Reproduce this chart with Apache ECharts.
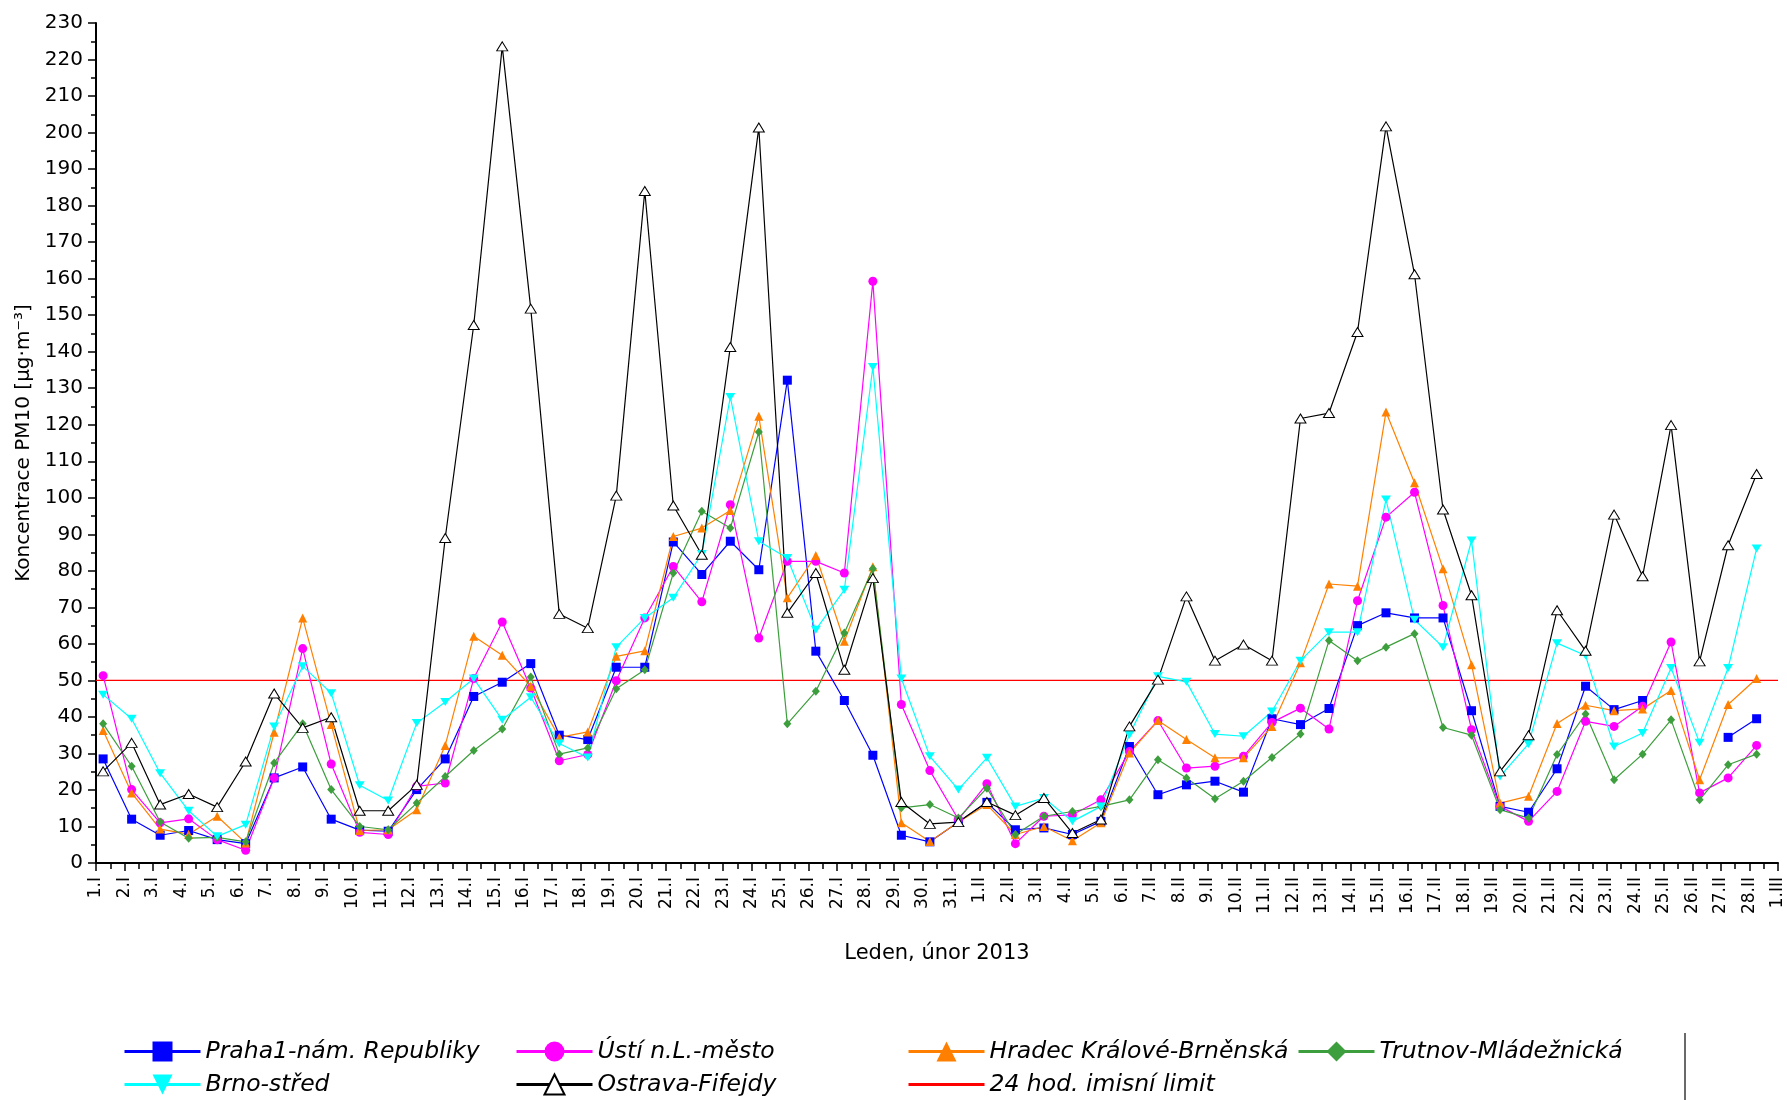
<!DOCTYPE html>
<html>
<head>
<meta charset="utf-8">
<script src="https://cdn.jsdelivr.net/npm/echarts@6/dist/echarts.min.js"></script>
<style>
  html, body { margin: 0; padding: 0; background: #fff; }
  #chart { width: 1787px; height: 1100px; }
</style>
</head>
<body>
<div id="chart"></div>
<script>
// Day labels along the time axis (January, February 2013, closing tick 1.III)
const tickLabels = [
  '1.I','2.I','3.I','4.I','5.I','6.I','7.I','8.I','9.I','10.I',
  '11.I','12.I','13.I','14.I','15.I','16.I','17.I','18.I','19.I','20.I',
  '21.I','22.I','23.I','24.I','25.I','26.I','27.I','28.I','29.I','30.I','31.I',
  '1.II','2.II','3.II','4.II','5.II','6.II','7.II','8.II','9.II','10.II',
  '11.II','12.II','13.II','14.II','15.II','16.II','17.II','18.II','19.II','20.II',
  '21.II','22.II','23.II','24.II','25.II','26.II','27.II','28.II','1.III'
];

// Daily mean PM10 concentrations [µg·m⁻³], 1.I – 28.II 2013
const praha = [
  28.5, 12.0, 7.6, 8.9, 6.4, 5.3, 23.3, 26.3, 12.0, 9.0,
  8.7, 20.1, 28.5, 45.6, 49.5, 54.6, 35.0, 33.8, 53.6, 53.6,
  87.9, 79.0, 88.1, 80.3, 132.2, 58.0, 44.5, 29.5, 7.6, 5.8,
  11.2, 16.6, 9.1, 9.6, 7.8, 11.4, 31.9, 18.7, 21.4, 22.4,
  19.4, 39.5, 37.9, 42.3, 65.0, 68.5, 67.1, 67.1, 41.7, 15.5,
  13.9, 25.8, 48.4, 42.0, 44.5, null, null, 34.4, 39.5
];
const usti = [
  51.3, 20.1, 11.0, 12.1, 6.4, 3.5, 23.3, 58.7, 27.1, 8.4,
  7.8, 21.0, 21.9, 50.5, 66.0, 47.9, 28.0, 29.7, 49.9, 67.1,
  81.2, 71.5, 98.1, 61.6, 82.6, 82.6, 79.4, 159.3, 43.4, 25.3,
  11.9, 21.7, 5.3, 12.8, 13.2, 17.3, 30.5, 39.0, 26.0, 26.5,
  29.2, 38.5, 42.4, 36.7, 71.8, 94.7, 101.5, 70.5, 36.5, 15.5,
  11.4, 19.6, 38.8, 37.4, 42.9, 60.5, 19.2, 23.3, 32.2
];
const hradec = [
  36.3, 19.2, 9.3, 7.9, 12.8, 5.5, 35.8, 67.1, 37.9, 8.9,
  9.1, 14.6, 32.2, 62.1, 56.9, 48.4, 34.4, 35.9, 56.6, 58.1,
  89.4, 91.7, 96.5, 122.3, 72.6, 84.2, 60.7, 81.1, 11.0, 5.9,
  11.2, 16.0, 7.8, 10.0, 6.1, 11.0, 30.1, 39.0, 33.8, 28.8,
  28.8, 37.4, 54.8, 76.4, 75.8, 123.5, 104.1, 80.6, 54.3, 16.4,
  18.3, 38.2, 43.2, 41.7, 42.2, 47.2, 22.8, 43.4, 50.5
];
const trutnov = [
  38.1, 26.5, 11.2, 6.8, 7.0, 5.8, 27.4, 38.1, 20.1, 10.0,
  9.1, 16.4, 23.7, 30.8, 36.7, 50.9, 29.8, 31.5, 47.7, 52.9,
  79.4, 96.3, 91.7, 118.0, 38.1, 47.0, 63.0, 80.6, 15.1, 16.0,
  12.3, 20.5, 7.8, 12.8, 14.1, 15.5, 17.3, 28.3, 23.3, 17.6,
  22.4, 28.9, 35.3, 60.9, 55.4, 59.1, 62.8, 37.1, 35.0, 14.6,
  12.3, 29.7, 40.8, 22.8, 29.8, 39.2, 17.3, 26.9, 29.8
];
const brno = [
  46.1, 39.5, 24.6, 14.3, 7.3, 10.5, 37.4, 53.9, 46.5, 21.3,
  17.1, 38.3, 44.1, 50.5, 39.2, 45.4, 32.7, 28.9, 59.1, 67.1,
  72.6, 84.6, 127.6, 88.1, 83.5, 63.9, 74.8, 135.8, 50.5, 29.2,
  20.1, 28.8, 15.5, 17.8, 11.4, 15.5, 35.1, 51.1, 49.6, 35.3,
  34.7, 41.5, 55.4, 63.2, 63.2, 99.5, 66.6, 59.1, 88.3, 23.7,
  32.6, 60.2, 56.8, 31.9, 35.6, 53.4, 32.9, 53.4, 86.1
];
const ostrava = [
  25.1, 32.9, 16.0, 18.9, 15.3, 27.8, 46.4, 37.0, 39.9, 14.3,
  14.3, 21.4, 89.0, 147.3, 223.6, 151.8, 68.2, 64.3, 100.6, 184.0,
  97.9, 84.4, 141.3, 201.4, 68.5, 79.4, 52.9, 78.0, 16.7, 10.7,
  11.2, 16.7, 13.1, 17.8, 8.2, 11.9, 37.4, 50.2, 73.0, 55.4,
  59.8, 55.4, 121.7, 123.2, 145.4, 201.7, 161.2, 96.8, 73.3, 25.1,
  35.0, 69.2, 58.1, 95.4, 78.5, 119.9, 55.2, 87.0, 106.5
];

// 24-hour limit value
const LIMIT = 50;

// Daily means sit a quarter of a day to the right of their date tick
const DAY_OFFSET = 0.25;
const X_MAX = tickLabels.length - 1;

const FONT = 'DejaVu Sans';

function toPoints(values) {
  return values.map((v, i) => [i + DAY_OFFSET, v == null ? '-' : v]);
}

function station(name, values, color, symbol, symbolSize, opts) {
  opts = opts || {};
  return {
    name: name,
    type: 'line',
    data: toPoints(values),
    symbol: symbol,
    symbolSize: symbolSize,
    symbolRotate: opts.rotate || 0,
    showAllSymbol: true,
    connectNulls: false,
    lineStyle: { color: opts.lineColor || color, width: 1.2 },
    itemStyle: opts.itemStyle || { color: color },
    emphasis: { disabled: true },
    z: 3
  };
}

const chart = echarts.init(document.getElementById('chart'), null, { renderer: 'canvas' });

// Legend columns: each column holds up to two entries stacked vertically
const legendBase = {
  type: 'plain',
  orient: 'vertical',
  top: 1039,
  height: 80,
  padding: 0,
  itemWidth: 76,
  itemHeight: 25,
  itemGap: 8,
  selectedMode: false,
  lineStyle: { width: 3 },
  textStyle: { fontFamily: FONT, fontStyle: 'italic', fontSize: 23.5, color: '#000', lineHeight: 25 }
};

chart.setOption({
  animation: false,
  backgroundColor: '#fff',
  grid: { left: 96, right: 9, top: 23, bottom: 237, containLabel: false },
  xAxis: {
    type: 'value',
    min: 0,
    max: X_MAX,
    interval: 1,
    name: 'Leden, únor 2013',
    nameLocation: 'middle',
    nameGap: 80,
    nameTextStyle: { fontFamily: FONT, fontSize: 21, color: '#000' },
    axisLine: { show: true, onZero: false, lineStyle: { color: '#000', width: 2 } },
    axisTick: { show: true, inside: false, length: 8, lineStyle: { color: '#000', width: 1.5 } },
    minorTick: { show: true, splitNumber: 2, length: 6, lineStyle: { color: '#000', width: 1.5 } },
    splitLine: { show: false },
    minorSplitLine: { show: false },
    axisLabel: {
      rotate: 90,
      margin: 14,
      fontFamily: FONT,
      fontSize: 17,
      color: '#000',
      showMinLabel: true,
      showMaxLabel: true,
      formatter: v => tickLabels[Math.round(v)] || ''
    }
  },
  yAxis: {
    type: 'value',
    min: 0,
    max: 230,
    interval: 10,
    name: 'Koncentrace PM10 [µg·m⁻³]',
    nameLocation: 'middle',
    nameGap: 58,
    nameRotate: 90,
    nameTextStyle: { fontFamily: FONT, fontSize: 20, color: '#000' },
    axisLine: { show: true, lineStyle: { color: '#000', width: 2 } },
    axisTick: { show: true, inside: false, length: 8, lineStyle: { color: '#000', width: 1.5 } },
    minorTick: { show: true, splitNumber: 2, length: 5, lineStyle: { color: '#000', width: 1.5 } },
    splitLine: { show: false },
    minorSplitLine: { show: false },
    axisLabel: { margin: 13, fontFamily: FONT, fontSize: 20, color: '#000' }
  },
  legend: [
    Object.assign({}, legendBase, { left: 123, data: ['Praha1-nám. Republiky', 'Brno-střed'] }),
    Object.assign({}, legendBase, { left: 515, data: ['Ústí n.L.-město', 'Ostrava-Fifejdy'] }),
    Object.assign({}, legendBase, { left: 907, data: [
      'Hradec Králové-Brněnská',
      { name: '24 hod. imisní limit', icon: 'path://M0,0H76V3H0Z' }
    ] }),
    Object.assign({}, legendBase, { left: 1297, data: ['Trutnov-Mládežnická'] })
  ],
  graphic: [
    {
      type: 'line',
      shape: { x1: 1685, y1: 1033, x2: 1685, y2: 1100 },
      style: { stroke: '#6a6a6a', lineWidth: 2 },
      silent: true
    }
  ],
  series: [
    {
      name: '24 hod. imisní limit',
      type: 'line',
      data: [[0, LIMIT], [X_MAX, LIMIT]],
      symbol: 'none',
      lineStyle: { color: '#ff0000', width: 1.3 },
      itemStyle: { color: '#ff0000' },
      emphasis: { disabled: true },
      z: 2
    },
    station('Praha1-nám. Republiky', praha, '#0000ff', 'rect', 9),
    station('Ústí n.L.-město', usti, '#ff00ff', 'circle', 9),
    station('Hradec Králové-Brněnská', hradec, '#ff8000', 'triangle', [9, 9]),
    station('Trutnov-Mládežnická', trutnov, '#3c9e3c', 'diamond', [8, 9]),
    station('Brno-střed', brno, '#00ffff', 'triangle', [10, 8], { rotate: 180 }),
    station('Ostrava-Fifejdy', ostrava, '#000000', 'triangle', [11, 9], {
      itemStyle: { color: '#ffffff', borderColor: '#000000', borderWidth: 1 }
    })
  ]
});
</script>
</body>
</html>
